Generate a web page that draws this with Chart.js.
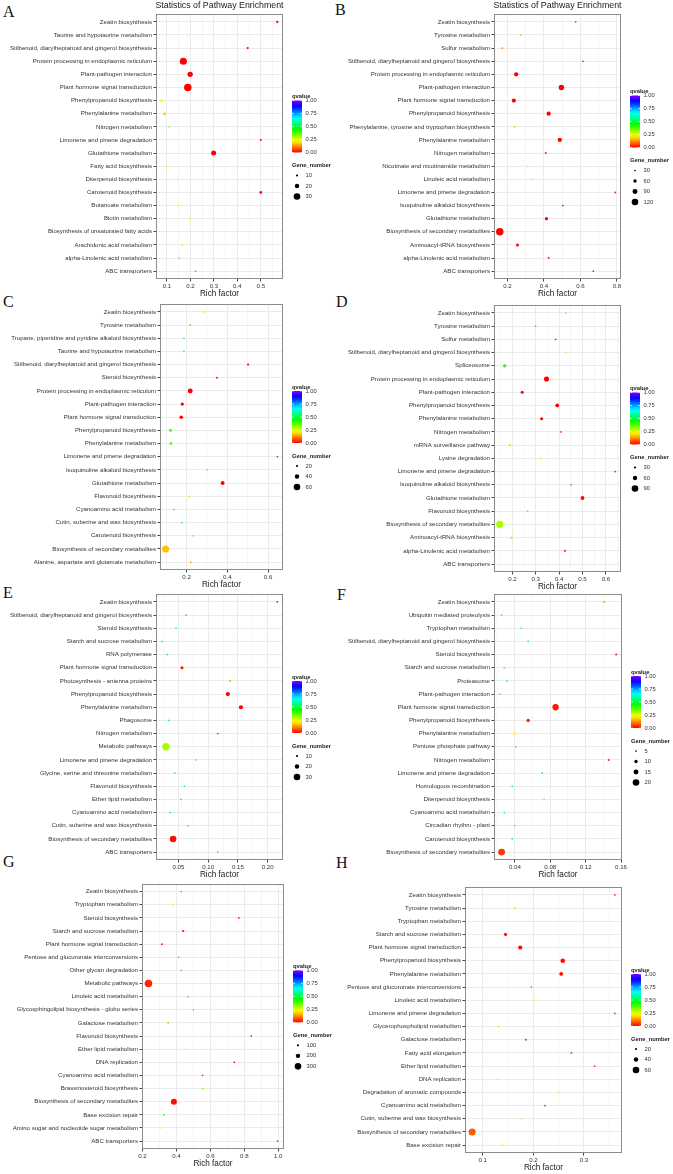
<!DOCTYPE html>
<html lang="en">
<head>
<meta charset="UTF-8">
<title>Statistics of Pathway Enrichment</title>
<script src="https://cdn.jsdelivr.net/npm/chart.js"></script>
<style>
  body { margin: 0; background: #fff; }
  #fig { position: relative; width: 673px; height: 1174px; overflow: hidden; background: #fff; }
  #fig canvas { position: absolute; }
  .tag { position: absolute; font-family: "Liberation Serif", "DejaVu Serif", serif; font-size: 16px; line-height: 1; color: #111; }
</style>
</head>
<body>
<div id="fig">
  <div class="tag" style="left:3px;top:4px">A</div>
  <div class="tag" style="left:335px;top:2px">B</div>
  <div class="tag" style="left:3px;top:294px">C</div>
  <div class="tag" style="left:336px;top:294px">D</div>
  <div class="tag" style="left:3px;top:585px">E</div>
  <div class="tag" style="left:337px;top:587px">F</div>
  <div class="tag" style="left:3px;top:854px">G</div>
  <div class="tag" style="left:336px;top:855px">H</div>
</div>
<script>
  // ---- data ----
  const qBreaks = [0, 0.25, 0.5, 0.75, 1];

  const catsA = ['Zeatin biosynthesis', 'Taurine and hypotaurine metabolism', 'Stilbenoid, diarylheptanoid and gingerol biosynthesis',
    'Protein processing in endoplasmic reticulum', 'Plant-pathogen interaction', 'Plant hormone signal transduction',
    'Phenylpropanoid biosynthesis', 'Phenylalanine metabolism', 'Nitrogen metabolism', 'Limonene and pinene degradation',
    'Glutathione metabolism', 'Fatty acid biosynthesis', 'Diterpenoid biosynthesis', 'Carotenoid biosynthesis',
    'Butanoate metabolism', 'Biotin metabolism', 'Biosynthesis of unsaturated fatty acids', 'Arachidonic acid metabolism',
    'alpha-Linolenic acid metabolism', 'ABC transporters'];
  const richA = [0.570, 0.187, 0.444, 0.170, 0.199, 0.189, 0.078, 0.090, 0.110, 0.500, 0.299, 0.099, 0.147, 0.500, 0.150, 0.199, 0.099, 0.165, 0.152, 0.222];
  const qA = [0.01, 0.25, 0.01, 0, 0, 0, 0.22, 0.17, 0.3, 0.01, 0, 0.25, 0.25, 0, 0.25, 0.28, 0.25, 0.28, 0.15, 0.45];
  const genesA = [11, 4, 10, 32, 24, 34, 12, 11, 4, 9, 23, 4, 4, 12, 4, 5, 4, 4, 5, 4];
  const xTicksA = ['0.1', '0.2', '0.3', '0.4', '0.5'];
  const sizeBreaksA = [10, 20, 30];

  const catsB = ['Zeatin biosynthesis', 'Tyrosine metabolism', 'Sulfur metabolism', 'Stilbenoid, diarylheptanoid and gingerol biosynthesis',
    'Protein processing in endoplasmic reticulum', 'Plant-pathogen interaction', 'Plant hormone signal transduction',
    'Phenylpropanoid biosynthesis', 'Phenylalanine, tyrosine and tryptophan biosynthesis', 'Phenylalanine metabolism',
    'Nitrogen metabolism', 'Nicotinate and nicotinamide metabolism', 'Linoleic acid metabolism', 'Limonene and pinene degradation',
    'Isoquinoline alkaloid biosynthesis', 'Glutathione metabolism', 'Biosynthesis of secondary metabolites',
    'Aminoacyl-tRNA biosynthesis', 'alpha-Linolenic acid metabolism', 'ABC transporters'];
  const richB = [0.574, 0.272, 0.172, 0.614, 0.248, 0.496, 0.235, 0.426, 0.239, 0.487, 0.410, 0.310, 0.336, 0.791, 0.504, 0.414, 0.158, 0.255, 0.426, 0.671];
  const qB = [0.05, 0.15, 0.1, 0.02, 0, 0, 0, 0, 0.17, 0, 0.03, 0.25, 0.28, 0.02, 0.02, 0, 0, 0.01, 0.02, 0.03];
  const genesB = [30, 20, 20, 30, 78, 100, 76, 78, 20, 78, 36, 15, 20, 28, 30, 60, 136, 55, 33, 26];
  const xTicksB = ['0.2', '0.4', '0.6', '0.8'];
  const sizeBreaksB = [30, 60, 90, 120];

  const catsC = ['Zeatin biosynthesis', 'Tyrosine metabolism', 'Tropane, piperidine and pyridine alkaloid biosynthesis',
    'Taurine and hypotaurine metabolism', 'Stilbenoid, diarylheptanoid and gingerol biosynthesis', 'Steroid biosynthesis',
    'Protein processing in endoplasmic reticulum', 'Plant-pathogen interaction', 'Plant hormone signal transduction',
    'Phenylpropanoid biosynthesis', 'Phenylalanine metabolism', 'Limonene and pinene degradation',
    'Isoquinoline alkaloid biosynthesis', 'Glutathione metabolism', 'Flavonoid biosynthesis', 'Cyanoamino acid metabolism',
    'Cutin, suberine and wax biosynthesis', 'Carotenoid biosynthesis', 'Biosynthesis of secondary metabolites',
    'Alanine, aspartate and glutamate metabolism'];
  const richC = [0.287, 0.218, 0.187, 0.187, 0.502, 0.349, 0.218, 0.179, 0.174, 0.121, 0.123, 0.646, 0.302, 0.377, 0.211, 0.138, 0.177, 0.233, 0.097, 0.220];
  const qC = [0.2, 0.12, 0.6, 0.55, 0.01, 0.02, 0, 0, 0, 0.4, 0.38, 0.02, 0.17, 0, 0.3, 0.55, 0.58, 0.15, 0.17, 0.12];
  const genesC = [10, 12, 8, 8, 20, 18, 45, 30, 33, 26, 24, 14, 12, 36, 10, 14, 12, 12, 64, 12];
  const xTicksC = ['0.2', '0.4', '0.6'];
  const sizeBreaksC = [20, 40, 60];

  const catsD = ['Zeatin biosynthesis', 'Tyrosine metabolism', 'Sulfur metabolism', 'Stilbenoid, diarylheptanoid and gingerol biosynthesis',
    'Spliceosome', 'Protein processing in endoplasmic reticulum', 'Plant-pathogen interaction', 'Phenylpropanoid biosynthesis',
    'Phenylalanine metabolism', 'Nitrogen metabolism', 'mRNA surveillance pathway', 'Lysine degradation',
    'Limonene and pinene degradation', 'Isoquinoline alkaloid biosynthesis', 'Glutathione metabolism', 'Flavonoid biosynthesis',
    'Biosynthesis of secondary metabolites', 'Aminoacyl-tRNA biosynthesis', 'alpha-Linolenic acid metabolism', 'ABC transporters'];
  const richD = [0.428, 0.299, 0.385, 0.428, 0.167, 0.346, 0.242, 0.392, 0.325, 0.408, 0.190, 0.322, 0.640, 0.451, 0.500, 0.265, 0.146, 0.197, 0.425, 0.445];
  const qD = [0.17, 0.12, 0.03, 0.2, 0.42, 0, 0, 0, 0, 0.05, 0.28, 0.2, 0.03, 0.05, 0, 0.35, 0.3, 0.3, 0.02, 0.22];
  const genesD = [15, 15, 18, 15, 45, 70, 42, 52, 42, 20, 32, 15, 15, 18, 52, 12, 98, 32, 28, 15];
  const xTicksD = ['0.2', '0.3', '0.4', '0.5', '0.6'];
  const sizeBreaksD = [30, 60, 90];

  const catsE = ['Zeatin biosynthesis', 'Stilbenoid, diarylheptanoid and gingerol biosynthesis', 'Steroid biosynthesis',
    'Starch and sucrose metabolism', 'RNA polymerase', 'Plant hormone signal transduction', 'Photosynthesis - antenna proteins',
    'Phenylpropanoid biosynthesis', 'Phenylalanine metabolism', 'Phagosome', 'Nitrogen metabolism', 'Metabolic pathways',
    'Limonene and pinene degradation', 'Glycine, serine and threonine metabolism', 'Flavonoid biosynthesis',
    'Ether lipid metabolism', 'Cyanoamino acid metabolism', 'Cutin, suberine and wax biosynthesis',
    'Biosynthesis of secondary metabolites', 'ABC transporters'];
  const richE = [0.216, 0.063, 0.046, 0.022, 0.031, 0.056, 0.137, 0.133, 0.155, 0.034, 0.116, 0.029, 0.079, 0.044, 0.060, 0.054, 0.036, 0.066, 0.041, 0.116];
  const qE = [0.02, 0.45, 0.55, 0.6, 0.55, 0.02, 0.12, 0, 0, 0.6, 0.05, 0.3, 0.6, 0.6, 0.55, 0.5, 0.55, 0.5, 0.01, 0.55];
  const genesE = [8, 4, 4, 4, 4, 14, 5, 19, 19, 4, 6, 33, 4, 4, 4, 4, 4, 4, 30, 4];
  const xTicksE = ['0.05', '0.10', '0.15', '0.20'];
  const sizeBreaksE = [10, 20, 30];

  const catsF = ['Zeatin biosynthesis', 'Ubiquitin mediated proteolysis', 'Tryptophan metabolism',
    'Stilbenoid, diarylheptanoid and gingerol biosynthesis', 'Steroid biosynthesis', 'Starch and sucrose metabolism',
    'Proteasome', 'Plant-pathogen interaction', 'Plant hormone signal transduction', 'Phenylpropanoid biosynthesis',
    'Phenylalanine metabolism', 'Pentose phosphate pathway', 'Nitrogen metabolism', 'Limonene and pinene degradation',
    'Homologous recombination', 'Diterpenoid biosynthesis', 'Cyanoamino acid metabolism', 'Circadian rhythm - plant',
    'Carotenoid biosynthesis', 'Biosynthesis of secondary metabolites'];
  const richF = [0.141, 0.025, 0.047, 0.055, 0.1545, 0.028, 0.031, 0.023, 0.086, 0.055, 0.040, 0.041, 0.146, 0.071, 0.037, 0.073, 0.028, 0.040, 0.037, 0.025];
  const qF = [0.13, 0.6, 0.58, 0.55, 0.02, 0.6, 0.6, 0.6, 0.02, 0.02, 0.22, 0.45, 0.02, 0.5, 0.58, 0.17, 0.6, 0.58, 0.58, 0.05];
  const genesF = [6, 5, 3, 3, 6, 5, 4, 5, 19, 10, 8, 3, 6, 3, 4, 4, 5, 3, 3, 21];
  const xTicksF = ['0.04', '0.08', '0.12', '0.16'];
  const sizeBreaksF = [5, 10, 15, 20];

  const catsG = ['Zeatin biosynthesis', 'Tryptophan metabolism', 'Steroid biosynthesis', 'Starch and sucrose metabolism',
    'Plant hormone signal transduction', 'Pentose and glucuronate interconversions', 'Other glycan degradation',
    'Metabolic pathways', 'Linoleic acid metabolism', 'Glycosphingolipid biosynthesis - globo series', 'Galactose metabolism',
    'Flavonoid biosynthesis', 'Ether lipid metabolism', 'DNA replication', 'Cyanoamino acid metabolism',
    'Brassinosteroid biosynthesis', 'Biosynthesis of secondary metabolites', 'Base excision repair',
    'Amino sugar and nucleotide sugar metabolism', 'ABC transporters'];
  const richG = [0.428, 0.379, 0.768, 0.440, 0.314, 0.412, 0.428, 0.235, 0.467, 0.499, 0.351, 0.841, 0.456, 0.741, 0.554, 0.554, 0.385, 0.326, 0.310, 0.996];
  const qG = [0.45, 0.2, 0.02, 0.01, 0.01, 0.12, 0.4, 0.03, 0.4, 0.58, 0.15, 0.02, 0.22, 0.01, 0.05, 0.35, 0.01, 0.45, 0.22, 0.03];
  const genesG = [30, 30, 55, 100, 80, 40, 30, 340, 30, 30, 45, 55, 35, 70, 45, 30, 270, 30, 40, 30];
  const xTicksG = ['0.2', '0.4', '0.6', '0.8', '1.0'];
  const sizeBreaksG = [100, 200, 300];

  const catsH = ['Zeatin biosynthesis', 'Tyrosine metabolism', 'Tryptophan metabolism', 'Starch and sucrose metabolism',
    'Plant hormone signal transduction', 'Phenylpropanoid biosynthesis', 'Phenylalanine metabolism',
    'Pentose and glucuronate interconversions', 'Linoleic acid metabolism', 'Limonene and pinene degradation',
    'Glycerophospholipid metabolism', 'Galactose metabolism', 'Fatty acid elongation', 'Ether lipid metabolism',
    'DNA replication', 'Degradation of aromatic compounds', 'Cyanoamino acid metabolism',
    'Cutin, suberine and wax biosynthesis', 'Biosynthesis of secondary metabolites', 'Base excision repair'];
  const richH = [0.361, 0.163, 0.191, 0.145, 0.174, 0.258, 0.255, 0.196, 0.202, 0.361, 0.131, 0.185, 0.275, 0.321, 0.129, 0.251, 0.223, 0.177, 0.079, 0.139];
  const qH = [0.05, 0.18, 0.22, 0.01, 0.01, 0.01, 0.01, 0.08, 0.25, 0.05, 0.18, 0.03, 0.03, 0.03, 0.2, 0.25, 0.03, 0.2, 0.08, 0.2];
  const genesH = [10, 10, 8, 28, 38, 42, 35, 12, 8, 10, 10, 18, 12, 12, 10, 8, 14, 8, 64, 10];
  const xTicksH = ['0.1', '0.2', '0.3'];
  const sizeBreaksH = [20, 40, 60];

  // ---- layout: box = canvas [left, top, w, h], area = plot [left, right, top, bottom] inside the canvas
  const panels = [
    { id: 'A', cats: catsA, rich: richA, q: qA, genes: genesA, xTicks: xTicksA, sizes: sizeBreaksA, title: true, box: [0, 0, 336, 300], area: [156, 283, 14, 279] },
    { id: 'B', cats: catsB, rich: richB, q: qB, genes: genesB, xTicks: xTicksB, sizes: sizeBreaksB, title: true, box: [336, 0, 337, 300], area: [158, 285, 14, 279] },
    { id: 'C', cats: catsC, rich: richC, q: qC, genes: genesC, xTicks: xTicksC, sizes: sizeBreaksC, box: [0, 290, 336, 300], area: [160, 283, 14, 280] },
    { id: 'D', cats: catsD, rich: richD, q: qD, genes: genesD, xTicks: xTicksD, sizes: sizeBreaksD, box: [336, 290, 337, 300], area: [158, 285, 15, 282] },
    { id: 'E', cats: catsE, rich: richE, q: qE, genes: genesE, xTicks: xTicksE, sizes: sizeBreaksE, box: [0, 585, 336, 300], area: [156, 283, 9, 275] },
    { id: 'F', cats: catsF, rich: richF, q: qF, genes: genesF, xTicks: xTicksF, sizes: sizeBreaksF, box: [336, 585, 337, 300], area: [158, 286, 9, 275] },
    { id: 'G', cats: catsG, rich: richG, q: qG, genes: genesG, xTicks: xTicksG, sizes: sizeBreaksG, box: [0, 880, 336, 294], area: [142, 284, 2, 269] },
    { id: 'H', cats: catsH, rich: richH, q: qH, genes: genesH, xTicks: xTicksH, sizes: sizeBreaksH, box: [336, 880, 337, 294], area: [129, 286, 7, 273] }
  ];

  const FONT = '"Liberation Sans", Arial, Helvetica, sans-serif';
  const TXT = '#333';

  // rainbow from red (q = 0) to violet (q = 1)
  function qColor(q) {
    return 'hsl(' + (q * 270).toFixed(1) + ', 100%, 50%)';
  }
  function radius(g, ref) {
    return Math.max(0.85, 3.3 * g / ref);
  }

  function makeDecor(p) {
    const ref = p.sizes[p.sizes.length - 1];
    return {
      id: 'decor' + p.id,
      afterDraw(chart) {
        const ctx = chart.ctx;
        const a = chart.chartArea;
        ctx.save();
        ctx.strokeStyle = '#8c8c8c';
        ctx.lineWidth = 1;
        ctx.strokeRect(Math.round(a.left) + 0.5, Math.round(a.top) + 0.5,
          Math.round(a.right - a.left) - 1, Math.round(a.bottom - a.top) - 1);

        const mid = (a.left + a.right) / 2;
        ctx.fillStyle = '#1a1a1a';
        ctx.textAlign = 'center';
        ctx.textBaseline = 'middle';
        if (p.title) {
          ctx.font = '8.8px ' + FONT;
          ctx.fillText('Statistics of Pathway Enrichment', mid, a.top - 8);
        }
        ctx.font = '8.2px ' + FONT;
        ctx.fillText('Rich factor', mid, a.bottom + 15);

        // legends
        const n = p.sizes.length;
        const cy = (a.top + a.bottom) / 2 - (n - 3) * 5;
        const lx = a.right + 9;
        ctx.textAlign = 'left';
        ctx.font = 'bold 5.8px ' + FONT;
        ctx.fillStyle = '#1a1a1a';
        ctx.fillText('qvalue', lx, cy - 50);
        const bt = cy - 46, bb = cy + 6;
        const grad = ctx.createLinearGradient(0, bb, 0, bt);
        for (let i = 0; i <= 20; i++) grad.addColorStop(i / 20, qColor(i / 20));
        ctx.fillStyle = grad;
        ctx.fillRect(lx, bt, 10, bb - bt);
        ctx.font = '5.8px ' + FONT;
        qBreaks.forEach(q => {
          const y = bb - q * (bb - bt);
          ctx.strokeStyle = '#fff';
          ctx.lineWidth = 0.6;
          ctx.beginPath();
          ctx.moveTo(lx, y); ctx.lineTo(lx + 2, y);
          ctx.moveTo(lx + 8, y); ctx.lineTo(lx + 10, y);
          ctx.stroke();
          ctx.fillStyle = TXT;
          ctx.fillText(q.toFixed(2), lx + 13.5, y);
        });

        ctx.font = 'bold 5.8px ' + FONT;
        ctx.fillStyle = '#1a1a1a';
        ctx.fillText('Gene_number', lx, cy + 19);
        ctx.font = '5.8px ' + FONT;
        p.sizes.forEach((v, k) => {
          const y = cy + 29 + k * 10.5;
          ctx.fillStyle = '#000';
          ctx.beginPath();
          ctx.arc(lx + 5, y, radius(v, ref), 0, Math.PI * 2);
          ctx.fill();
          ctx.fillStyle = TXT;
          ctx.fillText(String(v), lx + 13.5, y);
        });
        ctx.restore();
      }
    };
  }

  const fig = document.getElementById('fig');

  panels.forEach(p => {
    const [bx, by, bw, bh] = p.box;
    const [L, R, T, B] = p.area;
    const cv = document.createElement('canvas');
    cv.width = bw; cv.height = bh;
    cv.style.left = bx + 'px'; cv.style.top = by + 'px';
    cv.style.width = bw + 'px'; cv.style.height = bh + 'px';
    fig.appendChild(cv);

    // x range like ggplot: data range expanded by 5%
    const lo = Math.min(...p.rich), hi = Math.max(...p.rich);
    const xmin = lo - (hi - lo) * 0.05, xmax = hi + (hi - lo) * 0.05;

    // major ticks from the labels, minor grid halfway between
    const majors = p.xTicks.map(Number);
    const half = (majors[1] - majors[0]) / 2;
    const xt = [];
    majors.forEach((v, i) => {
      xt.push({ value: v, lbl: p.xTicks[i], minor: false });
      xt.push({ value: v + half, lbl: '', minor: true });
      if (i === 0) xt.push({ value: v - half, lbl: '', minor: true });
    });
    const xticks = xt.filter(t => t.value >= xmin - 1e-9 && t.value <= xmax + 1e-9)
      .sort((m, n) => m.value - n.value);

    const ref = p.sizes[p.sizes.length - 1];

    new Chart(cv, {
      type: 'bubble',
      data: {
        datasets: [{
          data: p.rich.map((x, i) => ({ x: x, y: i, r: radius(p.genes[i], ref) })),
          backgroundColor: p.q.map(qColor),
          borderWidth: 0,
          hoverRadius: 0
        }]
      },
      options: {
        responsive: false,
        animation: false,
        devicePixelRatio: 1,
        events: [],
        layout: { padding: { top: T, right: bw - R, left: 0, bottom: 0 } },
        plugins: { legend: { display: false }, tooltip: { enabled: false } },
        scales: {
          x: {
            type: 'linear',
            min: xmin,
            max: xmax,
            afterBuildTicks: s => { s.ticks = xticks.map(t => Object.assign({}, t)); },
            afterFit: s => { s.height = bh - B; s.paddingLeft = 0; s.paddingRight = 0; },
            ticks: {
              autoSkip: false, maxRotation: 0, padding: 1, color: TXT,
              font: { family: FONT, size: 6.1 },
              callback: (v, i, ts) => ts[i].lbl
            },
            grid: {
              color: c => (c.tick && c.tick.minor) ? '#f5f5f5' : '#ebebeb',
              tickColor: c => (c.tick && c.tick.minor) ? 'rgba(0,0,0,0)' : '#444',
              tickLength: 2.5
            },
            border: { display: false }
          },
          y: {
            type: 'linear',
            min: -0.6,
            max: p.cats.length - 0.4,
            reverse: true,
            afterBuildTicks: s => { s.ticks = p.cats.map((c, i) => ({ value: i })); },
            afterFit: s => { s.width = L; s.paddingTop = 0; s.paddingBottom = 0; },
            ticks: {
              autoSkip: false, padding: 1.5, color: TXT,
              font: { family: FONT, size: 6.1 },
              callback: v => p.cats[v]
            },
            grid: { color: '#ebebeb', tickColor: '#444', tickLength: 2.5 },
            border: { display: false }
          }
        }
      },
      plugins: [makeDecor(p)]
    });
  });
</script>
</body>
</html>
